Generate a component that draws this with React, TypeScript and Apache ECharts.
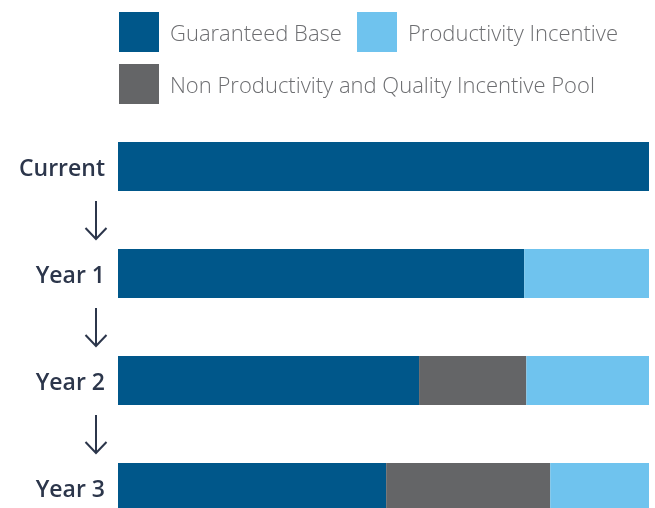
import React, { useEffect, useRef } from "react";
import * as echarts from "echarts";

const categories = ["Current", "Year 1", "Year 2", "Year 3"];
const guaranteedBase = [100, 76.5, 56.7, 50.5];
const nonProductivityPool = [0, 0, 20.2, 30.9];
const productivityIncentive = [0, 23.5, 23.1, 18.6];

const NAME_BASE = "Guaranteed Base";
const NAME_PROD = "Productivity Incentive";
const NAME_POOL = "Non Productivity and Quality Incentive Pool";

const C_BASE = "#00578a";
const C_PROD = "#6fc3ee";
const C_POOL = "#646567";
const C_LABEL = "#2c364b";
const C_LEGEND = "#6d6e71";

export default function App() {
  const ref = useRef<HTMLDivElement>(null);

  useEffect(() => {
    if (!ref.current) return;
    const chart = echarts.init(ref.current, null, { renderer: "svg" });
    const legendText = {
      color: C_LEGEND,
      fontSize: 22,
      fontWeight: 300,
      fontFamily: "Open Sans",
      padding: [0, 0, 2, 6],
    };
    const legendCommon = {
      orient: "horizontal",
      itemWidth: 40,
      itemHeight: 40,
      icon: "rect",
      selectedMode: false,
      textStyle: legendText,
      padding: 0,
    };
    chart.setOption({
      animation: false,
      legend: [
        { ...legendCommon, data: [NAME_BASE], left: 119, top: 12 },
        { ...legendCommon, data: [NAME_PROD], left: 357, top: 12 },
        { ...legendCommon, data: [NAME_POOL], left: 119, top: 64 },
      ],
      grid: {
        left: 118,
        right: 6,
        top: 113,
        height: 428,
        containLabel: false,
        outerBoundsMode: "none",
      },
      xAxis: { type: "value", min: 0, max: 100, show: false },
      yAxis: {
        type: "category",
        data: categories,
        inverse: true,
        axisLine: { show: false },
        axisTick: { show: false },
        splitLine: { show: false },
        axisLabel: {
          margin: 13,
          color: C_LABEL,
          fontSize: 23,
          fontWeight: 600,
          fontFamily: "Open Sans",
        },
      },
      series: [
        {
          name: NAME_BASE,
          type: "bar",
          stack: "total",
          data: guaranteedBase,
          barWidth: 49,
          itemStyle: { color: C_BASE },
        },
        {
          name: NAME_POOL,
          type: "bar",
          stack: "total",
          data: nonProductivityPool,
          barWidth: 49,
          itemStyle: { color: C_POOL },
        },
        {
          name: NAME_PROD,
          type: "bar",
          stack: "total",
          data: productivityIncentive,
          barWidth: 49,
          itemStyle: { color: C_PROD },
        },
      ],
    });

    // Decorative arrows between consecutive categories
    const arrows: any[] = [];
    const ax = 96;
    for (let i = 0; i < categories.length - 1; i++) {
      const y1 = chart.convertToPixel({ yAxisIndex: 0 }, categories[i]) as number;
      const y2 = chart.convertToPixel({ yAxisIndex: 0 }, categories[i + 1]) as number;
      const mid = (y1 + y2) / 2;
      const top = mid - 19;
      const bottom = mid + 19;
      arrows.push({
        type: "line",
        shape: { x1: ax, y1: top, x2: ax, y2: bottom },
        style: { stroke: C_LABEL, lineWidth: 2 },
      });
      arrows.push({
        type: "polyline",
        shape: {
          points: [
            [ax - 10.5, bottom - 11],
            [ax, bottom],
            [ax + 10.5, bottom - 11],
          ],
        },
        style: { stroke: C_LABEL, lineWidth: 2, fill: null },
      });
    }
    chart.setOption({ graphic: arrows });

    return () => chart.dispose();
  }, []);

  return (
    <div
      ref={ref}
      style={{ position: "fixed", left: 0, top: 0, width: 655, height: 508 }}
    />
  );
}
